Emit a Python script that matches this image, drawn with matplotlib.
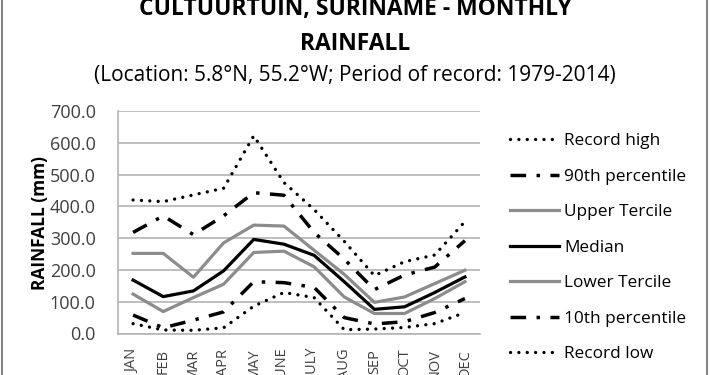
import numpy as np
import matplotlib as mpl
mpl.use('Agg')
from matplotlib import pyplot as plt
from matplotlib.patches import Rectangle

months = ['JAN', 'FEB', 'MAR', 'APR', 'MAY', 'JUNE', 'JULY', 'AUG', 'SEP', 'OCT', 'NOV', 'DEC']
record_high = [420, 415, 436, 457, 622, 475, 390, 290, 182, 226, 247, 352]
p90 = [318, 370, 311, 370, 443, 435, 318, 234, 138, 184, 209, 292]
upper_tercile = [252, 252, 177, 285, 341, 338, 262, 186, 98, 115, 157, 199]
median = [168, 116, 134, 197, 296, 281, 246, 163, 76, 84, 129, 178]
lower_tercile = [124, 69, 113, 155, 255, 259, 210, 115, 63, 63, 110, 163]
p10 = [58, 18, 42, 68, 163, 160, 145, 50, 30, 37, 66, 110]
record_low = [31, 11, 10, 18, 86, 129, 113, 12, 14, 19, 31, 66]

plt.rcParams['font.family'] = ['Open Sans', 'DejaVu Sans']

W, H = 710, 375
fig = plt.figure(figsize=(W / 100, H / 100), dpi=100)
ax = fig.add_axes([118 / W, 1 - 333.5 / H, (480 - 118) / W, (333.5 - 111) / H])

x = np.arange(len(months))
dot = (0, (0.01, 2.5))
dashdot = (0, (4.5, 3, 1, 3))
gray = '#8c8c8c'

series = [
    ('Record high', record_high, 'black', dot, 2.4),
    ('90th percentile', p90, 'black', dashdot, 2.5),
    ('Upper Tercile', upper_tercile, gray, '-', 2.3),
    ('Median', median, 'black', '-', 2.3),
    ('Lower Tercile', lower_tercile, gray, '-', 2.3),
    ('10th percentile', p10, 'black', dashdot, 2.5),
    ('Record low', record_low, 'black', dot, 2.4),
]
for label, vals, col, ls, lw in series:
    ax.plot(x, vals, color=col, linestyle=ls, linewidth=lw, label=label,
            dash_capstyle='round' if ls == dot else 'butt')

ax.set_xlim(-0.5, 11.5)
ax.set_ylim(0, 700)
ax.set_yticks(np.arange(0, 701, 100))
ax.set_yticklabels(['%.1f' % v for v in np.arange(0, 701, 100)], fontsize=13, color='#404040')
ax.set_xticks(x)
ax.set_xticklabels(months, rotation=90, fontsize=10.5, color='#404040')
ax.tick_params(length=0)
ax.tick_params(axis='y', pad=16)
ax.tick_params(axis='x', pad=11)
ax.yaxis.grid(True, color='#b4b4b4', linewidth=1.2)
ax.set_axisbelow(True)
for s in ['top', 'right']:
    ax.spines[s].set_visible(False)
for s in ['left', 'bottom']:
    ax.spines[s].set_color('#b4b4b4')
    ax.spines[s].set_linewidth(1.2)

fig.text(40 / W, 1 - 223 / H, 'RAINFALL (mm)', rotation=90, fontsize=12.5,
         fontweight='bold', ha='center', va='center')

## -- titles -- ##
fig.text(355 / W, 1 - 9 / H, 'CULTUURTUIN, SURINAME - MONTHLY', fontsize=16.5,
         fontweight='bold', ha='center', va='center')
fig.text(355 / W, 1 - 44 / H, 'RAINFALL', fontsize=16.5,
         fontweight='bold', ha='center', va='center')
fig.text(355 / W, 1 - 75 / H, '(Location: 5.8\u00b0N, 55.2\u00b0W; Period of record: 1979-2014)',
         fontsize=15, ha='center', va='center')

## -- legend -- ##
fig.legend(loc='upper left', bbox_to_anchor=(510 / W, 1 - 133 / H), frameon=False,
           fontsize=12.4, handlelength=2.85, handletextpad=0.3, labelspacing=1.13,
           borderpad=0, borderaxespad=0)

# chart border
fig.patches.append(Rectangle((2 / W, -0.05), 705 / W, 1.1, transform=fig.transFigure,
                             fill=False, edgecolor='#868686', linewidth=1.5))

fig.savefig('out.png', dpi=100)
